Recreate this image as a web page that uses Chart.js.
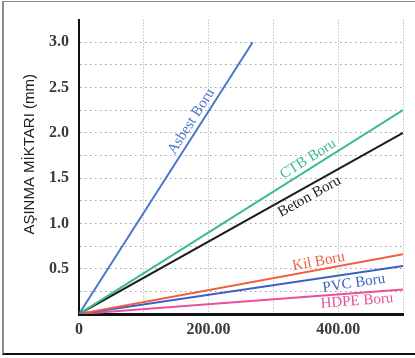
<!DOCTYPE html>
<html>
<head>
<meta charset="utf-8">
<script src="https://cdn.jsdelivr.net/npm/chart.js@4.4.1/dist/chart.umd.min.js"></script>
<style>
  html, body { margin: 0; padding: 0; background: #fff; }
  #wrap { position: relative; width: 415px; height: 358px; }
  #frame {
    position: absolute; left: 2px; top: 1px; width: 413px; height: 354px;
    box-sizing: border-box; pointer-events: none;
    border-top: 1px solid #8c8c8c; border-left: 2px solid #8c8c8c; border-bottom: 2px solid #111;
  }
</style>
</head>
<body>
<div id="wrap">
  <canvas id="wearChart"></canvas>
  <div id="frame"></div>
</div>
<script>
// pipe types, each line runs from the origin to its end point
const seriesNames = ["Asbest Boru", "CTB Boru", "Beton Boru", "Kil Boru", "PVC Boru", "HDPE Boru"];
const endX = [268, 500, 500, 500, 500, 500];
const endY = [3.0, 2.25, 2.0, 0.66, 0.53, 0.27];
const lineColors = ["#4a76c9", "#3dba8c", "#1c1c1c", "#f0603f", "#3d5fc4", "#e8519b"];

const xTicks = [0, 200, 400];
const xTickText = ["0", "200.00", "400.00"];
const yTicks = [0.5, 1.0, 1.5, 2.0, 2.5, 3.0];
const yTickText = ["0.5", "1.0", "1.5", "2.0", "2.5", "3.0"];

// where along each line (x value) its name sits, and how far off the line (px, + is above)
const labelAt = [185, 361, 348, 372, 422, 428];
const labelOff = [9, 9, -10, 8, -10, -8];

function tickText(ticks, texts, v) {
    const i = ticks.findIndex((t) => Math.abs(t - v) < 1e-9);
    return i >= 0 ? texts[i] : "";
}

const lineLabels = {
    id: "lineLabels",
    afterDatasetsDraw(chart) {
        const { ctx, scales: { x, y } } = chart;
        const x0 = x.getPixelForValue(0), y0 = y.getPixelForValue(0);
        seriesNames.forEach((name, i) => {
            const x1 = x.getPixelForValue(endX[i]), y1 = y.getPixelForValue(endY[i]);
            const ang = Math.atan2(y1 - y0, x1 - x0);
            const at = labelAt[i];
            const px = x.getPixelForValue(at);
            const py = y.getPixelForValue(endY[i] * at / endX[i]);
            const off = labelOff[i];
            ctx.save();
            ctx.translate(px + Math.sin(ang) * off, py - Math.cos(ang) * off);
            ctx.rotate(ang);
            ctx.font = '15px "Liberation Serif"';
            ctx.fillStyle = lineColors[i];
            ctx.textAlign = "center";
            ctx.textBaseline = "middle";
            ctx.fillText(name, 0, 0);
            ctx.restore();
        });
    },
};

const tickFont = { family: '"Liberation Serif"', size: 16, weight: "bold" };

new Chart(document.getElementById("wearChart"), {
    type: "line",
    data: {
        datasets: seriesNames.map((name, i) => ({
            label: name,
            data: [{ x: 0, y: 0 }, { x: endX[i], y: endY[i] }],
            borderColor: lineColors[i],
            borderWidth: 2,
            pointRadius: 0,
            tension: 0,
        })),
    },
    options: {
        responsive: true,
        maintainAspectRatio: false,
        animation: false,
        layout: { padding: { left: 0, right: 12, top: 13, bottom: 0 } },
        plugins: {
            legend: { display: false },
            tooltip: { enabled: false },
        },
        scales: {
            x: {
                type: "linear",
                min: 0,
                max: 500,
                afterFit: (s) => { s.height = 44; },
                ticks: {
                    stepSize: 100,
                    autoSkip: false,
                    maxRotation: 0,
                    padding: 6,
                    color: "#3a3a3a",
                    font: tickFont,
                    callback: (v) => tickText(xTicks, xTickText, v),
                },
                grid: { color: "#a8a8a8", lineWidth: 1, drawTicks: false },
                border: { color: "#111", width: 3, dash: [1, 2] },
            },
            y: {
                min: 0,
                max: 3.25,
                afterFit: (s) => { s.width = 79; },
                ticks: {
                    stepSize: 0.25,
                    autoSkip: false,
                    padding: 10,
                    color: "#3a3a3a",
                    font: tickFont,
                    callback: (v) => tickText(yTicks, yTickText, v),
                },
                grid: {
                    color: (c) => (c.tick && c.tick.value > 3.01 ? "rgba(0,0,0,0)" : "#a0a0a0"),
                    lineWidth: 1,
                    drawTicks: false,
                },
                border: { color: "#111", width: 2, dash: [1.5, 3.5] },
                title: {
                    display: true,
                    text: "      AŞINMA MİKTARI (mm)",
                    color: "#222",
                    font: { family: '"Liberation Sans"', size: 15 },
                    padding: { top: 21, bottom: 0 },
                },
            },
        },
    },
    plugins: [lineLabels],
});
</script>
</body>
</html>
